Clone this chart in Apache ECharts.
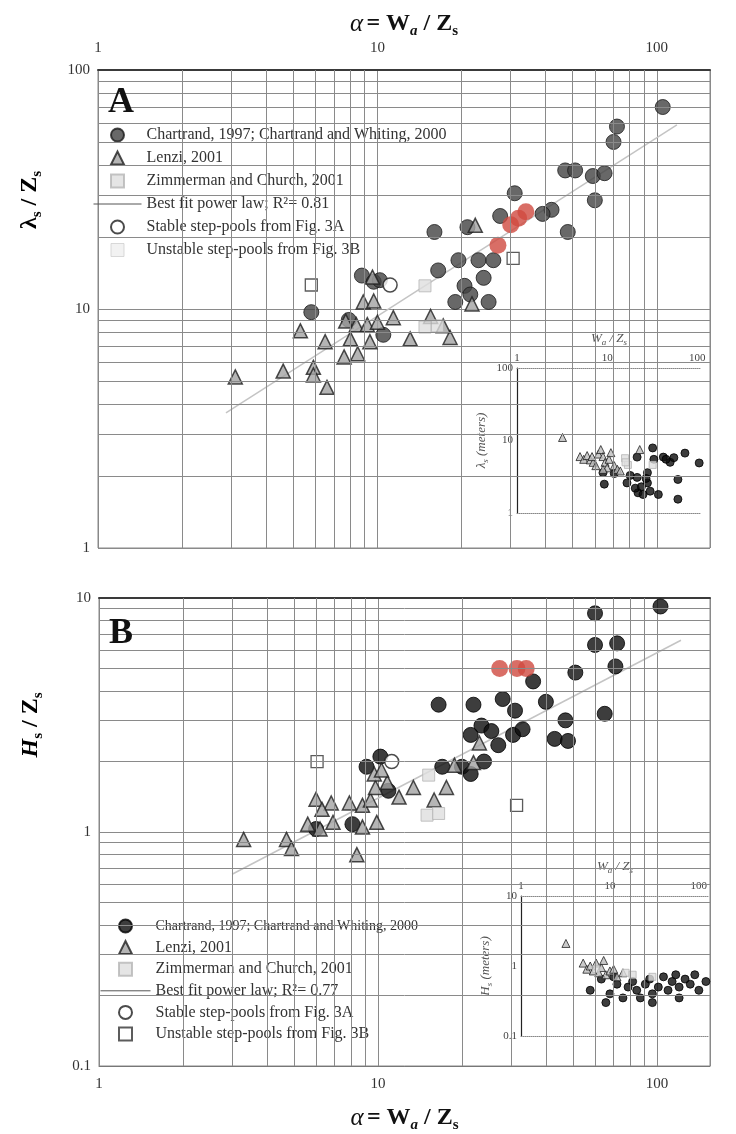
<!DOCTYPE html>
<html><head><meta charset="utf-8">
<script src="https://cdn.jsdelivr.net/npm/echarts@6/dist/echarts.min.js"></script>
<style>html,body{margin:0;padding:0;background:#fff}#c{width:736px;height:1134px}</style>
</head><body><div id="c"></div>
<script>
// ---------- tick labels ----------
const xTickLabels = [1, 10, 100];
const yTickLabelsA = [1, 10, 100];
const yTickLabelsB = [0.1, 1, 10];
const minorX = [2,3,4,5,6,7,8,9,20,30,40,50,60,70,80,90];
const minorYA = [2,3,4,5,6,7,8,9,20,30,40,50,60,70,80,90];
const minorYB = [0.2,0.3,0.4,0.5,0.6,0.7,0.8,0.9,2,3,4,5,6,7,8,9];

// ---------- legend names ----------
const nameChartrand = 'Chartrand, 1997; Chartrand and Whiting, 2000';
const nameLenzi = 'Lenzi, 2001';
const nameZim = 'Zimmerman and Church, 2001';
const nameFitA = 'Best fit power law; R²= 0.81';
const nameFitB = 'Best fit power law; R²= 0.77';
const nameStable = 'Stable step-pools from Fig. 3A';
const nameUnstable = 'Unstable step-pools from Fig. 3B';

// ---------- panel A data (alpha, lambda_s/Z_s) ----------
const chartrandA = [[105,70],[72,58],[70,50],[47,38],[51,38],[59,36],[65,37],[60,28.5],[31,30.5],[42,26],[39,25],[27.5,24.5],[21,22],[16,21],[48,21],[19.5,16],[23,16],[26,16],[16.5,14.5],[24,13.5],[20.5,12.5],[21.5,11.5],[19,10.7],[25,10.7],[8.8,13.8],[9.7,13],[10.2,13.2],[5.8,9.7],[7.9,9],[10.5,7.8]];
const redA = [[27,18.5],[30,22.5],[32,24],[34,25.5]];
const lenziA = [[3.1,5.2],[4.6,5.5],[5.9,5.7],[5.9,5.3],[6.6,4.7],[5.3,8.1],[6.5,7.3],[7.6,6.3],[8.5,6.5],[8,7.5],[9.4,7.3],[11.4,9.2],[13.1,7.5],[15.5,9.3],[18.2,7.6],[17.2,8.5],[8.9,10.7],[9.7,10.8],[7.7,8.9],[8.4,8.6],[9.2,8.6],[10,8.8],[9.6,13.6],[22.4,22.4],[21.8,10.5]];
const zimA = [[14.8,12.5],[14.8,8.4],[16.4,8.5]];
const stableA = [[11.1,12.6]];
const unstableA = [[5.8,12.6],[30.6,16.3]];
const fitA = [[2.87,3.68],[118,59]];

// ---------- panel B data (alpha, H_s/Z_s) ----------
const chartrandB = [[103,9.2],[60,8.6],[60,6.3],[72,6.4],[71,5.1],[51,4.8],[65,3.2],[47,3],[43,2.5],[48,2.45],[40,3.6],[36,4.4],[31,3.3],[28,3.7],[22,3.5],[16.5,3.5],[21.5,2.6],[23.5,2.85],[25.5,2.7],[30.5,2.6],[33,2.75],[27,2.35],[17,1.9],[20,1.9],[21.5,1.77],[24,2.0],[10.2,2.1],[9.1,1.9],[10.9,1.5],[8.1,1.08],[6,1.03]];
const redB = [[27.3,5.0],[31.5,5.0],[34,5.0]];
const lenziB = [[3.3,0.93],[4.7,0.93],[4.9,0.85],[6,1.38],[6.8,1.33],[6.3,1.25],[5.6,1.08],[6.9,1.1],[7.9,1.33],[8.8,1.3],[6.2,1.03],[9.9,1.1],[8.4,0.8],[9.4,1.37],[9.8,1.55],[10.8,1.63],[9.7,1.77],[10.3,1.84],[13.4,1.55],[11.9,1.41],[15.9,1.37],[17.6,1.55],[18.8,1.93],[22,1.98],[23.1,2.4],[8.8,1.05]];
const zimB = [[15.2,1.75],[15,1.18],[16.5,1.2]];
const stableB = [[11.2,2.0]];
const unstableB = [[6.05,2.0],[31.4,1.3]];
const fitB = [[3.0,0.66],[122,6.6]];

// ---------- insets (W_a/Z_s, meters) ----------
const insetAChartrand = [[9.3,2.5],[16.6,2.6],[21.5,5.9],[32,7.9],[42,5.9],[50,5],[73,6.7],[105,4.9],[61,2.9],[61,1.55],[37,1.8],[22,1.9],[28,2.6],[21.5,3.1],[20.5,2.2],[28,3.6],[9,3.6],[25,1.8],[30,2],[24,2.3],[27,3],[45,5.5],[55,5.8],[33,5.5],[12,3.5],[18,3.3]];
const insetALenzi = [[3.2,11],[5,6],[5.5,5.5],[6,6.2],[6.5,5.4],[7,5],[8,6.5],[8.5,7.5],[9,6],[9.5,5],[10,4.2],[10.5,5.5],[11,6.8],[12,4.5],[13,4],[14,3.8],[7.5,4.5],[9,4],[23,7.5],[6.8,6]];
const insetAZim = [[15.8,5.7],[17,4.6],[32,4.6],[16,5]];
const insetBChartrand = [[6,0.45],[8,0.65],[10,0.4],[12,0.55],[14,0.35],[16,0.5],[18,0.6],[20,0.45],[22,0.35],[25,0.55],[28,0.65],[30,0.4],[35,0.5],[40,0.7],[45,0.45],[50,0.6],[55,0.75],[60,0.5],[70,0.65],[80,0.55],[90,0.75],[100,0.45],[120,0.6],[30,0.3],[60,0.35],[11,0.7],[9,0.3]];
const insetBLenzi = [[3.2,2.1],[5,1.1],[5.5,0.9],[6,1.0],[6.5,0.85],[7,1.1],[7.5,0.8],[8,0.95],[9,0.75],[10,0.85],[11,0.9],[12,0.7],[14,0.8],[8.5,1.2]];
const insetBZim = [[15,0.8],[18,0.75],[30,0.7],[7,0.9]];

// ---------- helpers ----------
const SERIF = 'Liberation Serif';
function tickFmt(ticks){ return function(v){ for (const t of ticks){ if (Math.abs(v - t) / t < 1e-6) return String(t); } return ''; }; }
const gridColor = '#8a8a8a';
function gridLines(xi, yi, xs, ys){
  return { type:'line', xAxisIndex:xi, yAxisIndex:yi, data:[], silent:true, z:1, animation:false,
    markLine:{ silent:true, symbol:['none','none'], label:{show:false}, animation:false,
      lineStyle:{color:gridColor, width:1, type:'solid'},
      emphasis:{disabled:true},
      data: xs.map(v=>({xAxis:v})).concat(ys.map(v=>({yAxis:v}))) } };
}
const titleRich = {
  g:{fontFamily:SERIF, fontSize:25, fontStyle:'italic', color:'#111', lineHeight:28},
  b:{fontFamily:SERIF, fontSize:24, fontWeight:'bold', color:'#111', lineHeight:28},
  si:{fontFamily:SERIF, fontSize:15, fontWeight:'bold', fontStyle:'italic', color:'#111', lineHeight:16, padding:[15,0,0,0]},
  s:{fontFamily:SERIF, fontSize:15, fontWeight:'bold', color:'#111', lineHeight:16, padding:[15,0,0,0]}
};
const insetRich = {
  i:{fontFamily:SERIF, fontSize:13, fontStyle:'italic', color:'#555', lineHeight:15},
  si:{fontFamily:SERIF, fontSize:9, fontStyle:'italic', color:'#555', lineHeight:9, padding:[9,0,0,0]}
};
const tickLabel = {fontFamily:SERIF, fontSize:15, color:'#333'};
const insetTick = {fontFamily:SERIF, fontSize:11, color:'#444'};

function mainX(grid, pos, showLabels, name){
  return { type:'log', logBase:10, gridIndex:grid, position:pos, min:1, max:155,
    name: name || '', nameLocation:'middle', nameGap: pos==='top'?32:38,
    nameTextStyle:{rich:titleRich},
    axisLine:{show:true, lineStyle:{color: pos==='top' ? '#3a3a3a' : '#777', width: pos==='top'?2:1}},
    axisTick:{show:false},
    axisLabel:{show:showLabels, margin: pos==='top'?14:11, formatter:tickFmt(xTickLabels), ...tickLabel},
    splitLine:{show: showLabels, lineStyle:{color:gridColor, width:1}} };
}
function mainY(grid, min, max, ticks){
  return { type:'log', logBase:10, gridIndex:grid, min:min, max:max,
    axisLine:{show:true, lineStyle:{color:'#888'}}, axisTick:{show:false},
    axisLabel:{margin:8, formatter:tickFmt(ticks), ...tickLabel},
    splitLine:{show:true, lineStyle:{color:gridColor, width:1}} };
}
function insetX(grid, pos, max, showLabels, name){
  return { type:'log', logBase:10, gridIndex:grid, position:pos, min:1, max:max,
    name: name || '', nameLocation:'middle', nameGap:22, nameTextStyle:{rich:insetRich},
    axisLine:{show:true, lineStyle:{color:'#888', type:'dotted', width:1}},
    axisTick:{show:false},
    axisLabel:{show:showLabels, margin:4, formatter:tickFmt(xTickLabels), ...insetTick},
    splitLine:{show:false} };
}
function insetY(grid, min, max, ticks, name){
  return { type:'log', logBase:10, gridIndex:grid, min:min, max:max,
    name:name, nameLocation:'middle', nameGap:28, nameRotate:90, nameTextStyle:{rich:insetRich},
    axisLine:{show:true, lineStyle:{color:'#222', width:1.2}}, axisTick:{show:false},
    axisLabel:{margin:4, formatter:tickFmt(ticks), ...insetTick},
    splitLine:{show:false} };
}

const circleDark = {color:'#424242', borderColor:'#1a1a1a', borderWidth:1};
const circleBlack = {color:'#0d0d0d', borderColor:'#000', borderWidth:1};
const triStyle = {color:'#a2a2a2', borderColor:'#1e1e1e', borderWidth:1.5};
const zimStyle = {color:'#dedede', borderColor:'#b5b5b5', borderWidth:1};
const redStyle = {color:'#cf4a40', borderColor:'#cf4a40', borderWidth:0};
const openCircle = {color:'#ffffff', borderColor:'#1e1e1e', borderWidth:1.5};
const openSquare = {color:'#ffffff', borderColor:'#333', borderWidth:1.3};

function sc(name, xi, yi, data, symbol, size, style, z){
  return {type:'scatter', name:name, xAxisIndex:xi, yAxisIndex:yi, data:data, symbol:symbol, symbolSize:size, itemStyle:style, z:z||3, animation:false, emphasis:{disabled:true}};
}
function fit(name, xi, yi, data){
  return {type:'line', name:name, xAxisIndex:xi, yAxisIndex:yi, data:data, symbol:'none', z:2, animation:false,
    lineStyle:{color:'#c4c4c4', width:1.5}, emphasis:{disabled:true}};
}
const ZW = '\u200b';
const TRI = 'path://M0,10 L5,0 L10,10 Z';
const SQ = 'path://M0,0 L10,0 L10,10 L0,10 Z';
const hideSym = {color:'rgba(0,0,0,0)', borderWidth:0, opacity:0};

const legendText = {fontFamily:SERIF, fontSize:16, color:'#333', lineHeight:18};

const option = {
  animation:false,
  backgroundColor:'#ffffff',
  title:[
    {text:'A', left:103, top:80, textStyle:{fontFamily:SERIF, fontSize:36, fontWeight:'bold', color:'#111'}},
    {text:'B', left:104, top:611, textStyle:{fontFamily:SERIF, fontSize:36, fontWeight:'bold', color:'#111'}}
  ],
  grid:[
    {left:98, top:70, width:612, height:478, show:true, borderColor:'#888', borderWidth:1},
    {left:99, top:598, width:611, height:472, show:true, borderColor:'#888', borderWidth:1},
    {left:517, top:368, width:184, height:145},
    {left:521, top:896, width:188, height:140}
  ],
  xAxis:[
    mainX(0,'top',true,'{g|α} {b|= W}{si|a}{b| / Z}{s|s}'),
    mainX(1,'bottom',true,'{g|α} {b|= W}{si|a}{b| / Z}{s|s}'),
    mainX(1,'top',false,''),
    insetX(2,'top',110,true,'{i|W}{si|a}{i| / Z}{si|s}'),
    insetX(2,'bottom',110,false,''),
    insetX(3,'top',130,true,'{i|W}{si|a}{i| / Z}{si|s}'),
    insetX(3,'bottom',130,false,'')
  ],
  yAxis:[
    mainY(0,1,100,yTickLabelsA),
    mainY(1,0.1,10,yTickLabelsB),
    insetY(2,1,100,yTickLabelsA,'{i|λ}{si|s}{i| (meters)}'),
    insetY(3,0.1,10,yTickLabelsB,'{i|H}{si|s}{i| (meters)}')
  ],
  legend:[
    {left:88, top:121, orient:'vertical', itemWidth:48, itemHeight:13, itemGap:5, selectedMode:false,
      symbolKeepAspect:true, textStyle:legendText,
      data:[
        {name:nameChartrand},
        {name:nameLenzi, icon:TRI},
        {name:nameZim, icon:SQ},
        {name:nameFitA, lineStyle:{color:'#555', width:1}, itemStyle:hideSym},
        {name:nameStable},
        {name:nameUnstable, icon:SQ, itemStyle:{color:'#efefef', borderColor:'#cfcfcf', borderWidth:1}}
      ]},
    {left:95, top:912, orient:'vertical', itemWidth:50, itemHeight:13, itemGap:3.6, selectedMode:false,
      symbolKeepAspect:true, textStyle:legendText,
      formatter:function(n){ return n.replace(ZW,''); },
      data:[
        {name:nameChartrand+ZW, textStyle:{fontSize:14}},
        {name:nameLenzi+ZW, icon:TRI},
        {name:nameZim+ZW, icon:SQ},
        {name:nameFitB, lineStyle:{color:'#555', width:1}, itemStyle:hideSym},
        {name:nameStable+ZW},
        {name:nameUnstable+ZW, icon:SQ}
      ]}
  ],
  graphic:[
    {type:'text', x:30, y:200, rotation:Math.PI/2, style:{text:'{b|λ}{s|s}{b| / Z}{s|s}', rich:titleRich, align:'center', verticalAlign:'middle'}},
    {type:'text', x:31, y:725, rotation:Math.PI/2, style:{text:'{bi|H}{s|s}{b| / Z}{s|s}', rich:Object.assign({bi:{fontFamily:SERIF, fontSize:24, fontWeight:'bold', fontStyle:'italic', color:'#111', lineHeight:28}}, titleRich), align:'center', verticalAlign:'middle'}}
  ],
  series:[
    gridLines(0,0,minorX,minorYA),
    gridLines(1,1,minorX,minorYB),
    fit(nameFitA,0,0,fitA),
    sc(nameChartrand,0,0,chartrandA,'circle',15,circleDark),
    sc(nameLenzi,0,0,lenziA,'triangle',14,triStyle),
    sc(nameZim,0,0,zimA,'rect',12,zimStyle),
    sc(nameStable,0,0,stableA,'circle',14,openCircle),
    sc(nameUnstable,0,0,unstableA,'rect',12,openSquare),
    sc('redA',0,0,redA,'circle',17,redStyle,4),
    fit(nameFitB,1,1,fitB),
    sc(nameChartrand+ZW,1,1,chartrandB,'circle',15,circleBlack),
    sc(nameLenzi+ZW,1,1,lenziB,'triangle',14,triStyle),
    sc(nameZim+ZW,1,1,zimB,'rect',12,zimStyle),
    sc(nameStable+ZW,1,1,stableB,'circle',14,openCircle),
    sc(nameUnstable+ZW,1,1,unstableB,'rect',12,openSquare),
    sc('redB',1,1,redB,'circle',17,redStyle,4),
    sc('insetAC',3,2,insetAChartrand,'circle',8,circleBlack),
    sc('insetAL',3,2,insetALenzi,'triangle',8,{color:'#bdbdbd', borderColor:'#222', borderWidth:1}),
    sc('insetAZ',3,2,insetAZim,'rect',7,zimStyle),
    sc('insetBC',5,3,insetBChartrand,'circle',8,circleBlack),
    sc('insetBL',5,3,insetBLenzi,'triangle',8,{color:'#bdbdbd', borderColor:'#222', borderWidth:1}),
    sc('insetBZ',5,3,insetBZim,'rect',7,zimStyle)
  ]
};
const chart = echarts.init(document.getElementById('c'), null, {renderer:'canvas'});
chart.setOption(option);
</script></body></html>
